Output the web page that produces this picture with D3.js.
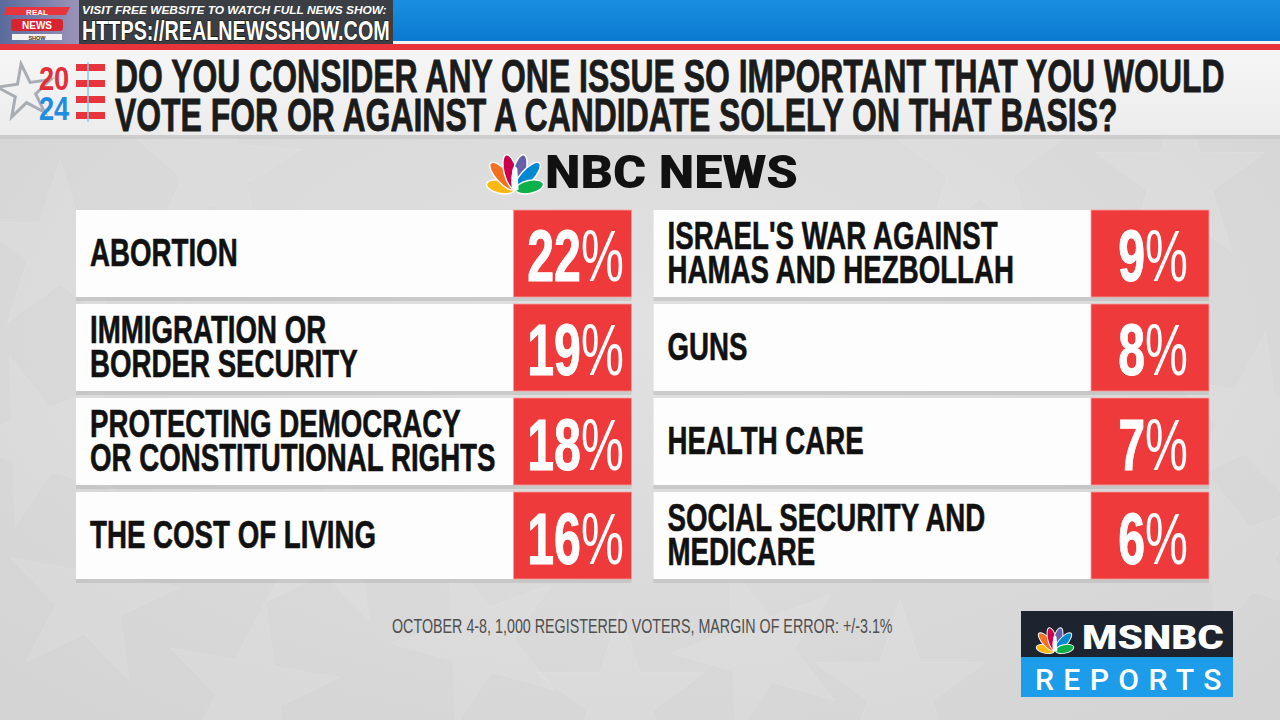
<!DOCTYPE html>
<html>
<head>
<meta charset="utf-8">
<script src="https://cdn.jsdelivr.net/npm/d3@7"></script>
<style>
  html, body { margin: 0; padding: 0; background: #d9d9d9; overflow: hidden; }
  svg { display: block; }
</style>
</head>
<body>
<svg id="chart" width="1280" height="720"></svg>
<script>
// Poll data
const issues = [
  "ABORTION",
  "IMMIGRATION OR|BORDER SECURITY",
  "PROTECTING DEMOCRACY|OR CONSTITUTIONAL RIGHTS",
  "THE COST OF LIVING",
  "ISRAEL'S WAR AGAINST|HAMAS AND HEZBOLLAH",
  "GUNS",
  "HEALTH CARE",
  "SOCIAL SECURITY AND|MEDICARE"
];
const shares = [22, 19, 18, 16, 9, 8, 7, 6];
const columns = [0, 1];
const rows = [0, 1, 2, 3];

const titleLines = [
  "DO YOU CONSIDER ANY ONE ISSUE SO IMPORTANT THAT YOU WOULD",
  "VOTE FOR OR AGAINST A CANDIDATE SOLELY ON THAT BASIS?"
];
const footnote = "OCTOBER 4-8, 1,000 REGISTERED VOTERS, MARGIN OF ERROR: +/-3.1%";
const peacockColors = ["#fcb711", "#f37021", "#cc004c", "#6460aa", "#0089d0", "#0db14b"];

const FONT = "'Liberation Sans', Arial, sans-serif";
const RED = "#ee3a3b";

const svg = d3.select('#chart');
const defs = svg.append('defs');

// background
const bg = defs.append('radialGradient').attr('id', 'bg').attr('cx', '50%').attr('cy', '45%').attr('r', '70%');
bg.append('stop').attr('offset', '0%').attr('stop-color', '#e1e1e1');
bg.append('stop').attr('offset', '100%').attr('stop-color', '#d4d4d4');
svg.append('rect').attr('width', 1280).attr('height', 720).attr('fill', 'url(#bg)');

// faint stars in the background
const starSpots = [[60, 250], [215, 170], [330, 540], [90, 600], [480, 640], [250, 690],
  [760, 650], [900, 690], [1180, 180], [1250, 420], [1240, 560], [980, 165], [40, 440], [620, 700]];
svg.append('g').selectAll('path')
  .data(starSpots)
  .join('path')
  .attr('transform', d => `translate(${d[0]},${d[1]}) rotate(${(d[0] * 7) % 40 - 20})`)
  .attr('d', d3.symbol(d3.symbolStar, 9000))
  .attr('fill', '#ffffff')
  .attr('fill-opacity', 0.08)
  .attr('stroke', '#ffffff')
  .attr('stroke-opacity', 0.1);

// top bar
const blue = defs.append('linearGradient').attr('id', 'blue').attr('x1', 0).attr('x2', 0).attr('y1', 0).attr('y2', 1);
blue.append('stop').attr('offset', '0%').attr('stop-color', '#1a8fe0');
blue.append('stop').attr('offset', '100%').attr('stop-color', '#0a79cf');
svg.append('rect').attr('width', 1280).attr('height', 41).attr('fill', 'url(#blue)');
svg.append('rect').attr('y', 41).attr('width', 1280).attr('height', 3).attr('fill', '#f4f4f4');
svg.append('rect').attr('y', 44).attr('width', 1280).attr('height', 6).attr('fill', '#e7333b');

// header band
const hdr = defs.append('linearGradient').attr('id', 'hdr').attr('x1', 0).attr('x2', 0).attr('y1', 0).attr('y2', 1);
hdr.append('stop').attr('offset', '0%').attr('stop-color', '#f6f6f6');
hdr.append('stop').attr('offset', '100%').attr('stop-color', '#ececec');
svg.append('rect').attr('y', 50).attr('width', 1280).attr('height', 85).attr('fill', 'url(#hdr)');
svg.append('rect').attr('y', 135).attr('width', 1280).attr('height', 4).attr('fill', '#c4c4c4').attr('opacity', 0.6);

// REAL NEWS SHOW badge
const badgeGrad = defs.append('linearGradient').attr('id', 'badge').attr('x1', 0).attr('x2', 1);
badgeGrad.append('stop').attr('offset', '0%').attr('stop-color', '#5a6a9c');
badgeGrad.append('stop').attr('offset', '100%').attr('stop-color', '#9b93b8');
const badge = svg.append('g');
badge.append('rect').attr('width', 79).attr('height', 44).attr('fill', 'url(#badge)');
badge.append('path').attr('d', 'M6,7 L70,7 L66,15 L4,15 Z').attr('fill', '#e8343c');
badge.append('text').attr('x', 37).attr('y', 14.5).attr('text-anchor', 'middle')
  .attr('font-family', FONT).attr('font-weight', 'bold').attr('font-size', 8).attr('fill', '#fff').text('REAL');
badge.append('rect').attr('x', 11).attr('y', 19).attr('width', 52).attr('height', 12).attr('rx', 3).attr('fill', '#d7242e');
badge.append('text').attr('x', 37).attr('y', 29).attr('text-anchor', 'middle')
  .attr('font-family', FONT).attr('font-weight', 'bold').attr('font-size', 10).attr('fill', '#fff').text('NEWS');
badge.append('rect').attr('x', 12).attr('y', 34).attr('width', 50).attr('height', 6).attr('fill', '#f2f2f2');
badge.append('text').attr('x', 37).attr('y', 39.5).attr('text-anchor', 'middle')
  .attr('font-family', FONT).attr('font-weight', 'bold').attr('font-size', 5.5).attr('fill', '#333').text('SHOW');

// website box
svg.append('rect').attr('x', 79).attr('width', 314).attr('height', 44).attr('fill', '#3b3e43');
fitText(svg.append('text').attr('font-family', FONT).attr('font-weight', 'bold').attr('font-style', 'italic')
  .attr('font-size', 10.5).attr('fill', '#fff').text('VISIT FREE WEBSITE TO WATCH FULL NEWS SHOW:'), 82, 14, 305);
fitText(svg.append('text').attr('font-family', FONT).attr('font-weight', 'bold')
  .attr('font-size', 27).attr('fill', '#fff').attr('stroke', '#111').attr('stroke-width', 1.2).attr('paint-order', 'stroke')
  .text('HTTPS://REALNEWSSHOW.COM'), 82, 40, 308);

// 2024 logo
const logo = svg.append('g');
logo.append('path')
  .attr('transform', 'translate(25,92) rotate(-8)')
  .attr('d', d3.symbol(d3.symbolStar, 900))
  .attr('fill', 'none').attr('stroke', '#a8adb4').attr('stroke-width', 3);
const yr = logo.append('text').attr('font-family', FONT).attr('font-weight', 'bold')
  .attr('font-size', 34).attr('transform', 'translate(39,90) scale(0.8,1)');
yr.append('tspan').attr('x', 0).attr('fill', '#e1303a').text('20');
yr.append('tspan').attr('x', 0).attr('dy', 30).attr('fill', '#1f8de0').text('24');
logo.append('g').selectAll('rect')
  .data(d3.range(4))
  .join('rect')
  .attr('x', 76).attr('y', i => 64 + i * 16).attr('width', 29).attr('height', 7)
  .attr('fill', '#e8343c');
logo.append('line').attr('x1', 88).attr('x2', 88).attr('y1', 62).attr('y2', 122)
  .attr('stroke', '#8fc3ea').attr('stroke-width', 1.5);

// title (one text element, one tspan per line)
const title = svg.append('text')
  .attr('font-family', FONT).attr('font-weight', 'bold').attr('font-size', 46)
  .attr('fill', '#1b1b1b').attr('stroke', '#1b1b1b').attr('stroke-width', 0.8);
const titleSpans = title.selectAll('tspan')
  .data(titleLines)
  .join('tspan')
  .attr('x', 0)
  .attr('dy', (d, i) => i ? 39 : 0)
  .text(d => d);
const titleScale = 1110 / titleSpans.nodes()[0].getComputedTextLength();
title.attr('transform', `translate(115,92) scale(${titleScale},1)`);

// NBC NEWS logo
drawPeacock(svg.append('g'), 515, 190, 1.18);
fitText(svg.append('text').attr('font-family', "Roboto, 'Open Sans', sans-serif").attr('font-weight', 900)
  .attr('font-size', 46).attr('fill', '#111').text('NBC NEWS'), 545, 188, 253);

// cards
const colX = d3.scaleBand().domain(columns).range([76, 1209]).paddingInner(0.038);
const rowY = d3.scaleBand().domain(rows).range([210, 579]).paddingInner(0.0745);
const boxW = 118;

const data = issues.map((label, i) => ({
  lines: label.split('|'),
  value: shares[i],
  col: Math.floor(i / rows.length),
  row: i % rows.length
}));

const card = svg.append('g').selectAll('g')
  .data(data)
  .join('g')
  .attr('transform', d => `translate(${colX(d.col)},${rowY(d.row)})`);

card.append('rect')
  .attr('x', 0).attr('y', 2)
  .attr('width', colX.bandwidth()).attr('height', rowY.bandwidth() + 2)
  .attr('fill', '#9a9a9a').attr('opacity', 0.3);
card.append('rect')
  .attr('width', colX.bandwidth() - boxW).attr('height', rowY.bandwidth())
  .attr('fill', '#fdfdfd');
card.append('rect')
  .attr('x', colX.bandwidth() - boxW).attr('width', boxW).attr('height', rowY.bandwidth())
  .attr('fill', RED).attr('stroke', '#f5a0a0').attr('stroke-width', 0.8);

card.each(function(d) {
  const g = d3.select(this);
  const cy = rowY.bandwidth() / 2;
  const first = cy - (d.lines.length - 1) * 17 + 12.5;
  g.append('text')
    .attr('transform', `translate(14,${first}) scale(0.71,1)`)
    .attr('font-family', FONT).attr('font-weight', 'bold').attr('font-size', 39)
    .attr('fill', '#111').attr('stroke', '#111').attr('stroke-width', 0.6)
    .selectAll('tspan')
    .data(d.lines)
    .join('tspan')
    .attr('x', 0)
    .attr('dy', (l, i) => i ? 34 : 0)
    .text(l => l);
  const pct = g.append('text')
    .attr('transform', `translate(${colX.bandwidth() - boxW / 2 + 3},${cy + 28}) scale(0.67,1)`)
    .attr('text-anchor', 'middle')
    .attr('font-family', FONT).attr('font-weight', 'bold').attr('font-size', 72)
    .attr('fill', '#fff');
  pct.append('tspan').attr('stroke', '#fff').attr('stroke-width', 1).text(d.value);
  pct.append('tspan').attr('font-weight', 'normal').text('%');
});

// footnote
const fn = svg.append('text').attr('font-family', FONT).attr('font-size', 21).attr('fill', '#4f4f4f').text(footnote);
fitText(fn, 392, 633, 501);

// MSNBC REPORTS logo
const ms = svg.append('g');
ms.append('rect').attr('x', 1021).attr('y', 611).attr('width', 212).attr('height', 46).attr('fill', '#1d2430');
ms.append('rect').attr('x', 1021).attr('y', 657).attr('width', 212).attr('height', 40).attr('fill', '#1c9ce9');
drawPeacock(ms.append('g'), 1055, 651, 0.78);
fitText(ms.append('text').attr('font-family', "Roboto, 'Open Sans', sans-serif").attr('font-weight', 900)
  .attr('font-size', 33).attr('fill', '#fff').text('MSNBC'), 1082, 649, 142);
fitText(ms.append('text').attr('font-family', "Roboto, 'Open Sans', sans-serif").attr('font-weight', 500)
  .attr('font-size', 29).attr('letter-spacing', 9).attr('fill', '#fff').text('REPORTS'), 1035, 690, 196);

function fitText(sel, x, y, width) {
  const w = sel.node().getComputedTextLength();
  sel.attr('transform', `translate(${x},${y}) scale(${width / w},1)`);
  return sel;
}

function drawPeacock(g, bx, by, k) {
  const angles = [-168, -132, -104, -76, -48, -12];
  g.attr('transform', `translate(${bx},${by}) scale(${k})`);
  g.selectAll('ellipse')
    .data(peacockColors)
    .join('ellipse')
    .attr('transform', (c, i) => {
      const a = angles[i] * Math.PI / 180;
      const len = (i === 0 || i === 5) ? 24 : 30;
      return `translate(${Math.cos(a) * len / 2 * 1.05},${Math.sin(a) * len / 2 * 1.05}) rotate(${angles[i] + 90})`;
    })
    .attr('rx', 5.5)
    .attr('ry', (c, i) => (i === 0 || i === 5) ? 12 : 15)
    .attr('fill', c => c)
    .attr('stroke', '#fff').attr('stroke-width', 1.2);
  g.append('path').attr('d', 'M-3,0 L-2,-18 Q0,-22 2,-18 L3,0 Z').attr('fill', '#fff');
}
</script>
</body>
</html>
